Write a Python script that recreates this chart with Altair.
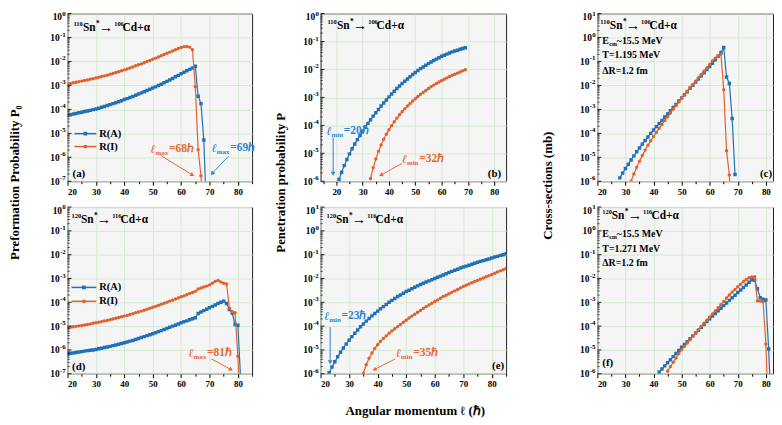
import math
import altair as alt
import pandas as pd

FONT = "Liberation Serif"
BLUE = "#1f71b8"
ORANGE = "#e2602b"
BLUE_TXT = "#2b86cf"
ORANGE_TXT = "#e4692f"
GRID = "#d6e9d2"
PANEL_BG = "#f5f5f5"

# ---------------- data (log10 of the plotted values, one per integer l) -------------
A_RA_START = 20
A_RA_LOG = [-4.24, -4.22, -4.19, -4.17, -4.14, -4.12, -4.09, -4.07, -4.04, -4.01,
            -3.98, -3.95, -3.91, -3.88, -3.84, -3.80, -3.76, -3.72, -3.68, -3.64,
            -3.59, -3.55, -3.50, -3.46, -3.41, -3.36, -3.31, -3.26, -3.21, -3.16,
            -3.11, -3.06, -3.00, -2.95, -2.89, -2.83, -2.77, -2.71, -2.64, -2.58,
            -2.51, -2.45, -2.39, -2.33, -2.27, -2.20, -3.45, -3.76, -5.28, -8.5]
A_RI_START = 20
A_RI_LOG = [-2.94, -2.92, -2.89, -2.87, -2.84, -2.82, -2.79, -2.77, -2.74, -2.72,
            -2.69, -2.66, -2.63, -2.60, -2.57, -2.53, -2.50, -2.46, -2.43, -2.39,
            -2.35, -2.31, -2.27, -2.23, -2.18, -2.14, -2.10, -2.05, -2.00, -1.96,
            -1.91, -1.86, -1.81, -1.76, -1.71, -1.66, -1.61, -1.56, -1.51, -1.46,
            -1.42, -1.38, -1.37, -1.40, -1.51, -3.05, -5.68, -6.77, -9.0]

D_RA_START = 20
D_RA_LOG = [-6.16, -6.14, -6.13, -6.11, -6.09, -6.07, -6.05, -6.03, -6.01, -6.00,
            -5.98, -5.95, -5.93, -5.90, -5.88, -5.85, -5.82, -5.79, -5.76, -5.73,
            -5.70, -5.67, -5.63, -5.60, -5.56, -5.52, -5.48, -5.44, -5.40, -5.36,
            -5.32, -5.28, -5.23, -5.19, -5.14, -5.10, -5.05, -5.00, -4.96, -4.91,
            -4.86, -4.82, -4.78, -4.73, -4.69, -4.65, -4.47, -4.41, -4.35, -4.29,
            -4.23, -4.17, -4.11, -4.05, -4.00, -3.95, -4.05, -4.30, -4.45, -4.93,
            -4.96, -7.3]
D_RI_START = 20
D_RI_LOG = [-5.07, -5.05, -5.03, -5.01, -4.99, -4.97, -4.95, -4.93, -4.91, -4.88,
            -4.86, -4.84, -4.81, -4.78, -4.76, -4.73, -4.70, -4.67, -4.64, -4.61,
            -4.58, -4.55, -4.51, -4.48, -4.44, -4.41, -4.37, -4.33, -4.29, -4.25,
            -4.21, -4.17, -4.13, -4.08, -4.04, -4.00, -3.95, -3.91, -3.86, -3.82,
            -3.77, -3.73, -3.68, -3.63, -3.59, -3.54, -3.44, -3.40, -3.36, -3.32,
            -3.27, -3.20, -3.12, -3.08, -3.15, -3.20, -3.23, -4.24, -4.40, -4.44,
            -6.26, -9.0]

B_RA_START = 21
B_RA_LOG = [-5.94, -5.68, -5.44, -5.22, -5.02, -4.84, -4.67, -4.51, -4.36, -4.21,
            -4.07, -3.93, -3.80, -3.67, -3.55, -3.43, -3.31, -3.20, -3.09, -2.98,
            -2.88, -2.78, -2.68, -2.59, -2.50, -2.42, -2.34, -2.26, -2.18, -2.11,
            -2.04, -1.97, -1.91, -1.85, -1.79, -1.73, -1.68, -1.63, -1.58, -1.53,
            -1.49, -1.45, -1.41, -1.37, -1.34, -1.31, -1.28, -1.25, -1.22]
B_RI_START = 33
B_RI_LOG = [-5.90, -5.52, -5.20, -4.93, -4.70, -4.50, -4.32, -4.16, -4.01, -3.87,
            -3.74, -3.62, -3.51, -3.41, -3.31, -3.22, -3.13, -3.05, -2.97, -2.89,
            -2.82, -2.75, -2.68, -2.62, -2.56, -2.50, -2.45, -2.40, -2.35, -2.30,
            -2.25, -2.21, -2.17, -2.13, -2.09, -2.05, -2.01]

E_RA_START = 23
E_RA_LOG = [-5.96, -5.72, -5.50, -5.29, -5.10, -4.92, -4.75, -4.59, -4.44, -4.30,
            -4.16, -4.03, -3.91, -3.79, -3.68, -3.57, -3.47, -3.37, -3.27, -3.18,
            -3.09, -3.00, -2.92, -2.84, -2.76, -2.69, -2.62, -2.55, -2.49, -2.43,
            -2.37, -2.31, -2.25, -2.20, -2.15, -2.10, -2.05, -2.00, -1.95, -1.90,
            -1.85, -1.80, -1.75, -1.70, -1.65, -1.61, -1.56, -1.52, -1.48, -1.44,
            -1.40, -1.36, -1.32, -1.28, -1.25, -1.21, -1.18, -1.14, -1.10, -1.07,
            -1.03, -1.00, -0.96]
E_RI_START = 35
E_RI_LOG = [-5.98, -5.62, -5.35, -5.13, -4.94, -4.78, -4.64, -4.52, -4.41, -4.30,
            -4.20, -4.11, -4.02, -3.93, -3.84, -3.75, -3.66, -3.58, -3.50, -3.42,
            -3.34, -3.26, -3.18, -3.11, -3.04, -2.97, -2.90, -2.83, -2.76, -2.70,
            -2.64, -2.58, -2.52, -2.46, -2.40, -2.34, -2.28, -2.23, -2.18, -2.13,
            -2.08, -2.03, -1.98, -1.93, -1.88, -1.83, -1.78, -1.73, -1.68, -1.63,
            -1.58]

C_RA_START = 28
C_RA_LOG = [-5.86, -5.66, -5.47, -5.29, -5.11, -4.94, -4.77, -4.61, -4.45, -4.30,
            -4.15, -4.00, -3.86, -3.72, -3.59, -3.46, -3.32, -3.19, -3.06, -2.92,
            -2.79, -2.65, -2.52, -2.39, -2.26, -2.12, -1.99, -1.86, -1.73, -1.60,
            -1.47, -1.34, -1.21, -1.07, -0.93, -0.78, -0.62, -0.42, -1.65, -1.92,
            -3.38, -5.72]
C_RI_START = 32
C_RI_LOG = [-6.00, -5.70, -5.42, -5.16, -4.92, -4.70, -4.50, -4.31, -4.13, -3.96,
            -3.79, -3.63, -3.47, -3.31, -3.15, -2.99, -2.84, -2.69, -2.54, -2.39,
            -2.24, -2.10, -1.96, -1.82, -1.68, -1.54, -1.40, -1.26, -1.12, -0.98,
            -0.86, -0.77, -0.70, -2.18, -4.73, -5.74, -8.5]

F_RA_START = 42
F_RA_LOG = [-5.93, -5.80, -5.67, -5.54, -5.41, -5.28, -5.15, -5.02, -4.89, -4.77,
            -4.65, -4.53, -4.41, -4.29, -4.17, -4.05, -3.93, -3.81, -3.69, -3.58,
            -3.47, -3.36, -3.25, -3.14, -3.03, -2.92, -2.81, -2.70, -2.59, -2.48,
            -2.38, -2.27, -2.16, -2.05, -2.07, -2.43, -2.81, -2.87, -2.90, -4.96,
            -8.0]
F_RI_START = 45
F_RI_LOG = [-5.89, -5.70, -5.52, -5.34, -5.16, -4.99, -4.85, -4.71, -4.57, -4.43,
            -4.29, -4.15, -4.01, -3.88, -3.75, -3.62, -3.49, -3.36, -3.23, -3.10,
            -2.97, -2.82, -2.69, -2.57, -2.46, -2.35, -2.24, -2.13, -2.04, -1.97,
            -1.94, -1.93, -2.94, -2.95, -2.98, -4.75, -8.0]

SERIES_NAMES = ["R(A)", "R(I)"]
PARENTS = [("110", "106"), ("120", "116")]

ONE = alt.Data(values=[{"k": 0}])
SUB_EM = {"max": 1.833, "min": 1.667}


def frame(start, logs):
    return pd.DataFrame({"l": list(range(start, start + len(logs))),
                         "v": [10.0 ** x for x in logs]})


def x_enc(dom, title=None, **kw):
    lo = int(math.ceil(dom[0] / 5.0) * 5)
    vals = list(range(lo, int(dom[1]) + 1, 5))
    return alt.X("l:Q", scale=alt.Scale(domain=dom, nice=False, zero=False),
                 axis=alt.Axis(values=vals,
                               labelExpr="datum.value % 10 == 0 ? datum.label : ''",
                               gridOpacity={"condition": {"test": "datum.value % 10 == 0", "value": 1}, "value": 0},
                               tickSize={"condition": {"test": "datum.value % 10 == 0", "value": 4}, "value": 2.5},
                               title=title, **kw))


def y_enc(lo, hi, title=None, **kw):
    exps = list(range(lo, hi + 1))
    return alt.Y("v:Q", scale=alt.Scale(type="log", domain=[10.0 ** lo, 10.0 ** hi], nice=False),
                 axis=alt.Axis(values=[10.0 ** k for k in exps], labels=False,
                               tickSize=0, title=title, **kw))


def txt(x, y, s, size=11, color="#000", italic=False, align="left", weight="bold"):
    kw = dict(text=s, align=align, baseline="middle", fontSize=size, font=FONT,
              fontWeight=weight, color=color)
    if italic:
        kw["fontStyle"] = "italic"
    return alt.Chart(ONE).mark_text(**kw).encode(x=alt.value(x), y=alt.value(y))


def y_tick_labels(Y, lo, hi):
    """Power-of-ten labels '10' + raised exponent, placed through the y scale."""
    exps = list(range(lo, hi + 1))
    df = pd.DataFrame({"v": [10.0 ** k for k in exps], "e": [str(k) for k in exps],
                       "neg": [k < 0 for k in exps], "top": [k == hi for k in exps]})
    layers = []
    for neg in (True, False):
        right = -8.0 if neg else -5.5
        for top in (False, True):
            sub = df[(df["neg"] == neg) & (df["top"] == top)]
            if sub.empty:
                continue
            d10, dex = (3.5, 0.0) if top else (0.5, -3.0)
            layers.append(alt.Chart(sub).mark_text(align="right", baseline="middle", fontSize=9.5,
                                                   font=FONT, fontWeight="bold", color="#000",
                                                   text="10", dy=d10)
                          .encode(x=alt.value(right), y=Y))
            layers.append(alt.Chart(sub).mark_text(align="left", baseline="middle", fontSize=7,
                                                   font=FONT, fontWeight="bold", color="#000", dy=dex)
                          .encode(x=alt.value(right + 0.3), y=Y, text="e:N"))
    return layers


def y_minor_ticks(Y, lo, hi):
    """Inward ticks on the left frame: long at decades, short at 2..9 x decade."""
    major = pd.DataFrame({"v": [10.0 ** k for k in range(lo, hi + 1)]})
    minor = pd.DataFrame({"v": [m * 10.0 ** k for k in range(lo, hi) for m in range(2, 10)]})
    return [alt.Chart(major).mark_rule(color="#222", strokeWidth=1).encode(
                x=alt.value(0), x2=alt.value(4), y=Y),
            alt.Chart(minor).mark_rule(color="#222", strokeWidth=0.8).encode(
                x=alt.value(0), x2=alt.value(2.2), y=Y)]


def reaction_title(x, y, pair):
    a, b = pair
    return [txt(x, y - 4, a, 6.5), txt(x + 9.5, y, "Sn", 11.5), txt(x + 22.7, y - 4, "*", 7.5),
            txt(x + 25.5, y, "→", 14.5), txt(x + 41, y - 4, b, 6.5), txt(x + 49.5, y, "Cd+α", 11.5)]


def arrow(x1, y1, x2, y2, color):
    dx, dy = x2 - x1, y2 - y1
    n = math.hypot(dx, dy)
    ux, uy = dx / n, dy / n
    ang = math.degrees(math.atan2(dx, -dy)) % 360
    line = alt.Chart(ONE).mark_rule(color=color, strokeWidth=1).encode(
        x=alt.value(x1), y=alt.value(y1), x2=alt.value(x2 - ux * 3), y2=alt.value(y2 - uy * 3))
    head = alt.Chart(ONE).mark_point(shape="triangle-up", filled=True, size=22, color=color,
                                     opacity=1, angle=ang).encode(
        x=alt.value(x2 - ux * 2.5), y=alt.value(y2 - uy * 2.5))
    return [line, head]


def ell(x, y, sub, rest, color, dsub=5.0):
    drest = dsub + SUB_EM[sub] * 7 + 0.8
    return [txt(x, y, "ℓ", 12, color, italic=True),
            txt(x + dsub, y + 4, sub, 7, color),
            txt(x + drest, y, rest, 11.5, color)]


def energy_block(x, y0, temp, y1, y2):
    return [txt(x, y0, "E", 10), txt(x + 7, y0 + 3, "cm", 6), txt(x + 14.5, y0, "~15.5 MeV", 10),
            txt(x, y1, "T=" + temp + " MeV", 10), txt(x, y2, "ΔR=1.2 fm", 10)]


def legend_entry(x1, x2, y, label, color, shape):
    line = alt.Chart(ONE).mark_rule(color=color, strokeWidth=1.5).encode(
        x=alt.value(x1), x2=alt.value(x2), y=alt.value(y))
    mk = alt.Chart(ONE).mark_point(shape=shape, filled=True, size=14, color=color, opacity=1).encode(
        x=alt.value((x1 + x2) / 2), y=alt.value(y))
    return [line, mk, txt(x2 + 3, y, label, 10.5)]


def panel(series, X, Y, ylo, yhi, W, H, extra):
    layers = []
    for df, color, shape in series:
        base = alt.Chart(df).encode(x=X, y=Y)
        layers.append(base.mark_line(color=color, strokeWidth=1.2, clip=True))
        layers.append(base.mark_point(shape=shape, filled=True, size=12, color=color,
                                      opacity=1, clip=True))
    layers += y_minor_ticks(Y, ylo, yhi)
    layers += y_tick_labels(Y, ylo, yhi)
    layers += extra
    return alt.layer(*layers).properties(
        width=W, height=H,
        view=alt.ViewBackground(fill=PANEL_BG, stroke="#222", strokeWidth=1))


def spacer(w, h):
    return alt.Chart(ONE).mark_point(opacity=0).encode(
        x=alt.value(0), y=alt.value(0)).properties(width=w, height=h)


W1, W2, W3 = 186, 187, 177
H1, H2 = 169, 168
C3_DOMAIN = [20, 20 + W3 / 2.83]

ytitle_kw = dict(titleAngle=270, titleAlign="center", titleBaseline="middle", titleFontSize=13)

# ---------------- panel (a) ----------------
Ya = y_enc(-7, 0, title="Preformation Probability P₀", titleX=-53, titleY=170, **ytitle_kw)
pa = panel(
    [(frame(A_RA_START, A_RA_LOG), BLUE, "square"), (frame(A_RI_START, A_RI_LOG), ORANGE, "circle")],
    x_enc([20, 85]), Ya, -7, 0, W1, H1,
    reaction_title(6, 15, PARENTS[0])
    + legend_entry(7, 29, 121, SERIES_NAMES[0], BLUE, "square")
    + legend_entry(7, 29, 134, SERIES_NAMES[1], ORANGE, "circle")
    + ell(83.7, 136.7, "max", "=68ℎ", ORANGE_TXT)
    + ell(145.3, 135.7, "max", "=69ℎ", BLUE_TXT)
    + arrow(94, 143, 128, 164, ORANGE_TXT)
    + arrow(162, 144, 144, 163, BLUE_TXT)
    + [txt(5, 162, "(a)", 11)]
)

# ---------------- panel (b) ----------------
Yb = y_enc(-6, 0, title="Penetration probability P", titleX=-40, titleY=170, **ytitle_kw)
pb = panel(
    [(frame(B_RA_START, B_RA_LOG), BLUE, "square"), (frame(B_RI_START, B_RI_LOG), ORANGE, "circle")],
    x_enc([14, 84.5]), Yb, -6, 0, W2, H1,
    reaction_title(7, 13, PARENTS[0])
    + ell(6, 118.3, "min", "=20ℏ", BLUE_TXT)
    + arrow(12.7, 125, 12.7, 164, BLUE_TXT)
    + ell(82, 146.7, "min", "=32ℏ", ORANGE_TXT)
    + arrow(82, 151, 58.7, 164, ORANGE_TXT)
    + [txt(182, 162, "(b)", 11, align="right")]
)

# ---------------- panel (c) ----------------
Yc = y_enc(-6, 1, title="Cross-sections (mb)", titleX=-50, titleY=173, **ytitle_kw)
pc = panel(
    [(frame(C_RA_START, C_RA_LOG), BLUE, "square"), (frame(C_RI_START, C_RI_LOG), ORANGE, "circle")],
    x_enc(C3_DOMAIN), Yc, -6, 1, W3, H1,
    reaction_title(3, 13, PARENTS[0])
    + energy_block(5, 28, "1.195", 42, 58)
    + [txt(176, 162, "(c)", 11, align="right")]
)

# ---------------- panel (d) ----------------
Yd = y_enc(-7, 0)
pd_ = panel(
    [(frame(D_RA_START, D_RA_LOG), BLUE, "square"), (frame(D_RI_START, D_RI_LOG), ORANGE, "circle")],
    x_enc([20, 85]), Yd, -7, 0, W1, H2,
    reaction_title(4, 13, PARENTS[1])
    + legend_entry(4, 29, 81, SERIES_NAMES[0], BLUE, "square")
    + legend_entry(4, 29, 95, SERIES_NAMES[1], ORANGE, "circle")
    + ell(122, 146.7, "max", "=81ℏ", ORANGE_TXT)
    + arrow(145, 153, 167, 165, ORANGE_TXT)
    + [txt(4.5, 161, "(d)", 11)]
)

# ---------------- panel (e) ----------------
Ye = y_enc(-6, 1)
pe = panel(
    [(frame(E_RA_START, E_RA_LOG), BLUE, "square"), (frame(E_RI_START, E_RI_LOG), ORANGE, "circle")],
    x_enc([20, 85], title="Angular momentum ℓ (ℏ)", titleY=37, titleX=95,
          titleBaseline="middle", titleFontSize=13),
    Ye, -6, 1, W2, H2,
    reaction_title(6, 13, PARENTS[1])
    + ell(3.7, 110, "min", "=23ℏ", BLUE_TXT)
    + arrow(9.7, 121, 9.7, 159, BLUE_TXT)
    + ell(76, 146.7, "min", "=35ℏ", ORANGE_TXT)
    + arrow(75.3, 153, 52, 165, ORANGE_TXT)
    + [txt(185, 160, "(e)", 11, align="right")]
)

# ---------------- panel (f) ----------------
Yf = y_enc(-6, 1)
pf = panel(
    [(frame(F_RA_START, F_RA_LOG), BLUE, "square"), (frame(F_RI_START, F_RI_LOG), ORANGE, "circle")],
    x_enc(C3_DOMAIN), Yf, -6, 1, W3, H2,
    reaction_title(5, 9, PARENTS[1])
    + energy_block(5, 27, "1.271", 42, 56)
    + [txt(5, 157, "(f)", 11)]
)

G1, G2 = 69, 92
chart = alt.concat(
    pa, spacer(G1, H1), pb, spacer(G2, H1), pc,
    pd_, spacer(G1, H2), pe, spacer(G2, H2), pf,
    columns=5, spacing={"row": 26, "column": 0}, bounds="flush", align="each",
    padding={"top": -1, "left": 0, "right": 0, "bottom": 0},
).configure(font=FONT).configure_axis(
    labelFont=FONT, labelFontWeight="bold", labelFontSize=9, labelColor="#000",
    titleFont=FONT, titleFontWeight="bold", titleColor="#000",
    gridColor=GRID, gridWidth=1, domain=False, tickColor="#000", labelPadding=2,
).configure_view(stroke="transparent")

chart.save("out.html", embed_options={"renderer": "svg", "actions": False})
